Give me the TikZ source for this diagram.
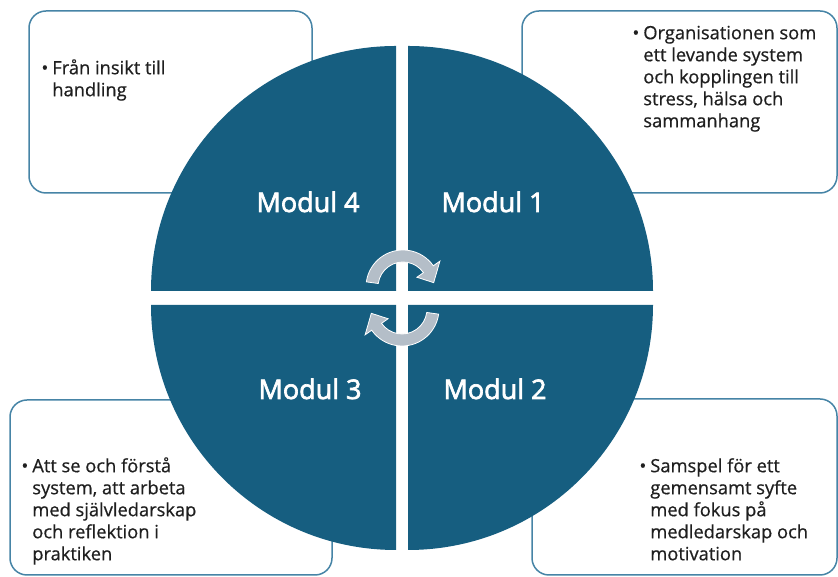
\documentclass[tikz,border=0pt]{standalone}
\usepackage{fontspec}
\setmainfont{Open Sans}
\newfontfamily\modfont[FakeBold=2.5]{Open Sans}
\newfontfamily\infofont[FakeBold=0.6]{Open Sans}
\usetikzlibrary{positioning,calc}
\definecolor{modblue}{RGB}{22,94,128}
\definecolor{boxblue}{RGB}{70,132,166}
\definecolor{cycgray}{RGB}{180,190,200}

\begin{document}
\begin{tikzpicture}[x=1pt, y=1pt,
            infobox/.style={rectangle, draw=boxblue, line width=1.5pt, fill=white, rounded corners=17pt},
            quad/.style={fill=modblue},
            modlabel/.style={text=white, font=\modfont\fontsize{27}{30}\selectfont, anchor=base, inner sep=0pt},
            info/.style={anchor=base west, inner sep=0pt, text=black!88, font=\infofont\fontsize{18.3}{22}\selectfont},
            cyc/.style={fill=cycgray, draw=white, line width=0.8pt}
        ]
        \useasboundingbox (0,0) rectangle (838,577);

        % Textrutor
        \node[infobox, minimum width=283pt, minimum height=182pt] (b4) at (170.5,475) {};
        \node[infobox, minimum width=315pt, minimum height=182pt] (b1) at (679.5,475) {};
        \node[infobox, minimum width=322pt, minimum height=175pt] (b3) at (171,89.5) {};
        \node[infobox, minimum width=305pt, minimum height=176pt] (b2) at (684.5,90) {};

        \node[info] (t4) at ([xshift=13pt, yshift=-64pt]b4.north west) {\begin{tabular}[t]{@{}l@{\hspace{4pt}}l@{}}\textbullet & Från insikt till\\ & handling\end{tabular}};
        \node[info] (t1) at ([xshift=111pt, yshift=-29pt]b1.north west) {\begin{tabular}[t]{@{}l@{\hspace{4pt}}l@{}}\textbullet & Organisationen som\\ & ett levande system\\ & och kopplingen till\\ & stress, hälsa och\\ & sammanhang\end{tabular}};
        \node[info] (t3) at ([xshift=12pt, yshift=-73pt]b3.north west) {\begin{tabular}[t]{@{}l@{\hspace{4pt}}l@{}}\textbullet & Att se och förstå\\ & system, att arbeta\\ & med självledarskap\\ & och reflektion i\\ & praktiken\end{tabular}};
        \node[info] (t2) at ([xshift=108pt, yshift=-74pt]b2.north west) {\begin{tabular}[t]{@{}l@{\hspace{4pt}}l@{}}\textbullet & Samspel för ett\\ & gemensamt syfte\\ & med fokus på\\ & medledarskap och\\ & motivation\end{tabular}};

        % Kvadranter
        \fill[quad] (396,286) -- ++(-245,0) arc[start angle=180, end angle=90, radius=245pt] -- cycle;
        \fill[quad] (408,286) -- ++(0,245) arc[start angle=90, end angle=0, radius=245pt] -- cycle;
        \fill[quad] (408,272) -- ++(245,0) arc[start angle=0, end angle=-90, radius=245pt] -- cycle;
        \fill[quad] (396,272) -- ++(0,-245) arc[start angle=270, end angle=180, radius=245pt] -- cycle;

        \node[modlabel] (m4) at (308,365) {Modul 4};
        \node[modlabel] (m1) at (493,365) {Modul 1};
        \node[modlabel] (m3) at (310,178) {Modul 3};
        \node[modlabel] (m2) at (495,178) {Modul 2};

        % Cykelpilar
        \coordinate (c1) at (403,290);
        \coordinate (c2) at (402,268);
        \path[cyc] ($(c1)+(172:37)$) arc[start angle=172, end angle=35, radius=37pt] -- ($(c1)+(35:45)$) -- ($(c1)+(8:31)$) -- ($(c1)+(35:17)$) -- ($(c1)+(35:25)$) arc[start angle=35, end angle=172, radius=25pt] -- cycle;
        \path[cyc] ($(c2)+(-8:37)$) arc[start angle=-8, end angle=-145, radius=37pt] -- ($(c2)+(-145:45)$) -- ($(c2)+(-172:31)$) -- ($(c2)+(-145:17)$) -- ($(c2)+(-145:25)$) arc[start angle=-145, end angle=-8, radius=25pt] -- cycle;
        \end{tikzpicture}
\end{document}
